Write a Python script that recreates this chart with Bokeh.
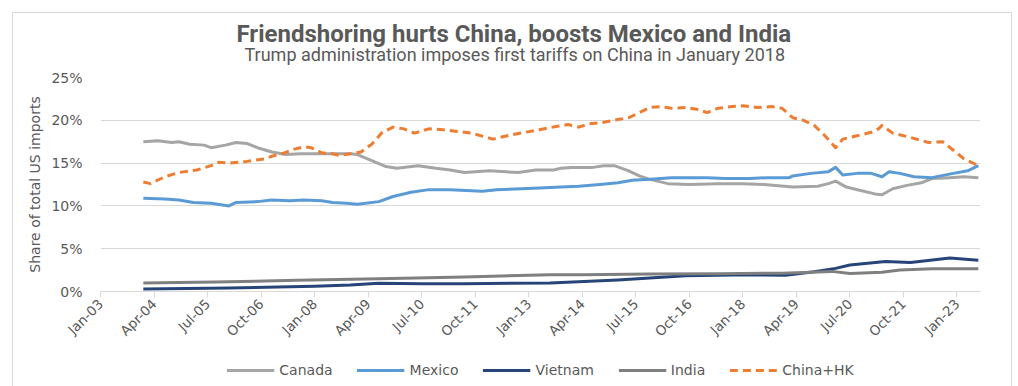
import math
from bokeh.plotting import figure
from bokeh.layouts import column
from bokeh.models import Range1d, FixedTicker, Legend, LegendItem, Title, ColumnDataSource
from bokeh.embed import file_html
from bokeh.resources import INLINE

# ---------------- data (share of total US imports, %) ----------------
tick_labels = ["Jan-03", "Apr-04", "Jul-05", "Oct-06", "Jan-08", "Apr-09", "Jul-10",
               "Oct-11", "Jan-13", "Apr-14", "Jul-15", "Oct-16", "Jan-18", "Apr-19",
               "Jul-20", "Oct-21", "Jan-23"]
y_ticks = [0, 5, 10, 15, 20, 25]

china_dates = ["2004-01", "2004-03", "2004-07", "2004-11", "2005-04", "2005-08", "2005-10",
               "2006-01", "2006-06", "2006-11", "2007-01", "2007-04", "2007-07", "2007-10",
               "2007-12", "2008-03", "2008-06", "2008-08", "2008-11", "2009-02", "2009-05",
               "2009-08", "2009-11", "2010-02", "2010-05", "2010-09", "2011-01", "2011-05",
               "2011-09", "2012-03", "2012-07", "2012-12", "2013-04", "2013-09", "2013-12",
               "2014-03", "2014-06", "2014-09", "2015-02", "2015-05", "2015-08", "2015-11",
               "2016-02", "2016-05", "2016-09", "2016-12", "2017-03", "2017-06", "2017-10",
               "2018-01", "2018-05", "2018-09", "2018-12", "2019-03", "2019-06", "2019-09",
               "2019-12", "2020-03", "2020-05", "2020-09", "2021-01", "2021-03", "2021-04",
               "2021-07", "2021-12", "2022-05", "2022-09", "2022-12", "2023-03", "2023-07"]
china_vals = [12.8, 12.6, 13.4, 13.9, 14.2, 14.7, 15.1,
              15.0, 15.2, 15.5, 15.8, 16.1, 16.6, 16.9,
              16.8, 16.2, 16.1, 15.9, 16.1, 16.3, 17.2,
              18.6, 19.2, 19.0, 18.5, 19.0, 18.9, 18.7,
              18.5, 17.8, 18.2, 18.6, 18.9, 19.3, 19.5,
              19.2, 19.6, 19.7, 20.1, 20.3, 20.9, 21.5,
              21.6, 21.4, 21.5, 21.3, 20.9, 21.4, 21.6,
              21.7, 21.5, 21.6, 21.4, 20.3, 20.0, 19.4,
              18.2, 16.8, 17.8, 18.2, 18.6, 19.0, 19.4,
              18.5, 18.0, 17.4, 17.5, 16.5, 15.5, 14.7]

canada_dates = ["2004-01", "2004-05", "2004-09", "2004-11", "2005-02", "2005-06", "2005-08",
                "2005-12", "2006-03", "2006-06", "2006-09", "2007-01", "2007-05", "2007-09",
                "2008-02", "2008-07", "2008-11", "2009-01", "2009-05", "2009-09", "2009-12",
                "2010-06", "2010-11", "2011-03", "2011-07", "2012-02", "2012-10", "2013-03",
                "2013-08", "2013-10", "2014-01", "2014-07", "2014-10", "2015-01", "2015-05",
                "2015-08", "2015-11", "2016-04", "2016-10", "2017-06", "2018-01", "2018-07",
                "2019-03", "2019-10", "2020-01", "2020-03", "2020-06", "2020-10", "2021-02",
                "2021-04", "2021-07", "2021-11", "2022-03", "2022-06", "2022-11", "2023-03",
                "2023-07"]
canada_vals = [17.5, 17.6, 17.4, 17.5, 17.2, 17.1, 16.8,
               17.1, 17.4, 17.3, 16.8, 16.3, 16.0, 16.1,
               16.1, 16.1, 16.1, 16.0, 15.3, 14.6, 14.4,
               14.7, 14.4, 14.2, 13.9, 14.1, 13.9, 14.2,
               14.2, 14.4, 14.5, 14.5, 14.7, 14.7, 14.1,
               13.5, 13.1, 12.6, 12.5, 12.6, 12.6, 12.5,
               12.2, 12.3, 12.6, 12.9, 12.2, 11.8, 11.4,
               11.3, 12.0, 12.4, 12.7, 13.2, 13.3, 13.4,
               13.3]

mexico_dates = ["2004-01", "2004-07", "2004-11", "2005-03", "2005-08", "2006-01", "2006-03",
                "2006-09", "2007-01", "2007-06", "2007-10", "2008-03", "2008-06", "2008-10",
                "2009-01", "2009-07", "2009-11", "2010-04", "2010-09", "2011-03", "2011-12",
                "2012-04", "2012-11", "2013-04", "2013-10", "2014-03", "2014-09", "2015-02",
                "2015-06", "2015-11", "2016-05", "2016-10", "2017-03", "2017-08", "2018-03",
                "2018-08", "2019-02", "2019-03", "2019-08", "2020-01", "2020-03", "2020-05",
                "2020-09", "2021-01", "2021-04", "2021-06", "2021-09", "2022-01", "2022-06",
                "2022-12", "2023-04", "2023-07"]
mexico_vals = [10.9, 10.8, 10.7, 10.4, 10.3, 10.0, 10.4,
               10.5, 10.7, 10.6, 10.7, 10.6, 10.4, 10.3,
               10.2, 10.5, 11.1, 11.6, 11.9, 11.9, 11.7,
               11.9, 12.0, 12.1, 12.2, 12.3, 12.5, 12.7,
               13.0, 13.1, 13.3, 13.3, 13.3, 13.2, 13.2,
               13.3, 13.3, 13.5, 13.8, 14.0, 14.5, 13.6,
               13.8, 13.8, 13.4, 14.0, 13.8, 13.4, 13.3,
               13.8, 14.1, 14.7]

vietnam_dates = ["2004-01", "2006-01", "2008-01", "2008-11", "2009-07", "2010-07", "2011-07",
                 "2013-07", "2015-02", "2016-09", "2018-03", "2019-01", "2019-09", "2020-03",
                 "2020-07", "2021-05", "2021-12", "2022-11", "2023-07"]
vietnam_vals = [0.3, 0.4, 0.6, 0.75, 0.95, 0.9, 0.9,
                1.0, 1.35, 1.85, 1.95, 1.9, 2.3, 2.7,
                3.1, 3.5, 3.4, 3.9, 3.65]

india_dates = ["2004-01", "2005-09", "2007-08", "2009-07", "2011-07", "2013-07", "2014-04",
               "2015-11", "2017-06", "2018-12", "2020-02", "2020-07", "2021-04", "2021-09",
               "2022-06", "2023-07"]
india_vals = [1.0, 1.1, 1.3, 1.5, 1.7, 1.95, 1.95,
              2.05, 2.07, 2.14, 2.35, 2.1, 2.25, 2.5,
              2.65, 2.65]

MONTHS = ["Jan", "Feb", "Mar", "Apr", "May", "Jun", "Jul", "Aug", "Sep", "Oct", "Nov", "Dec"]


def month_index(s):
    y, m = s.split("-")
    return (int(y) - 2003) * 12 + int(m) - 1


def label_index(lbl):
    mon, yy = lbl.split("-")
    return (int(yy)) * 12 + MONTHS.index(mon) - 36


TEXT = "#595959"
GRID = "#d9d9d9"

p = figure(frame_width=880, frame_height=214, output_backend="svg", toolbar_location=None,
           x_range=Range1d(0, 246.6), y_range=Range1d(0, 25),
           min_border_left=87, min_border_right=31, min_border_top=64, min_border_bottom=0)
p.outline_line_color = None
p.xgrid.grid_line_color = None
p.ygrid.grid_line_color = GRID
p.ygrid.grid_line_width = 1

# y axis
p.yaxis.ticker = FixedTicker(ticks=y_ticks)
p.yaxis.major_label_overrides = {t: f"{t}%" for t in y_ticks}
p.yaxis.axis_line_color = None
p.yaxis.major_tick_line_color = None
p.yaxis.minor_tick_line_color = None
p.yaxis.major_label_standoff = 12
p.yaxis.major_label_text_font = "DejaVu Sans"
p.yaxis.major_label_text_font_size = "14px"
p.yaxis.major_label_text_color = TEXT
p.yaxis.axis_label = "Share of total US imports"
p.yaxis.axis_label_text_font = "DejaVu Sans"
p.yaxis.axis_label_text_font_size = "14px"
p.yaxis.axis_label_text_font_style = "normal"
p.yaxis.axis_label_text_color = TEXT
p.yaxis.axis_label_standoff = 5

# x axis
xt = [label_index(l) for l in tick_labels]
p.xaxis.ticker = FixedTicker(ticks=xt)
p.xaxis.major_label_overrides = {t: l for t, l in zip(xt, tick_labels)}
p.xaxis.major_label_orientation = math.pi / 4
p.xaxis.axis_line_color = GRID
p.xaxis.major_tick_line_color = GRID
p.xaxis.major_tick_out = 6
p.xaxis.major_tick_in = 0
p.xaxis.minor_tick_line_color = None
p.xaxis.major_label_standoff = 4
p.xaxis.major_label_text_font = "DejaVu Sans"
p.xaxis.major_label_text_font_size = "13.5px"
p.xaxis.major_label_text_color = TEXT

series = [
    ("Canada", canada_dates, canada_vals, "#a5a5a5", "solid"),
    ("Mexico", mexico_dates, mexico_vals, "#5b9bd5", "solid"),
    ("Vietnam", vietnam_dates, vietnam_vals, "#264478", "solid"),
    ("India", india_dates, india_vals, "#7f7f7f", "solid"),
    ("China+HK", china_dates, china_vals, "#ed7d31", "8 5"),
]
sources = {}
for name, d, v, c, dash in series:
    src = ColumnDataSource(dict(x=[month_index(s) for s in d], y=v))
    sources[name] = src
    p.line("x", "y", source=src, line_color=c, line_width=3, line_dash=dash,
           line_join="round")

p.add_layout(Title(text="Trump administration imposes first tariffs on China in January 2018",
                   align="left", offset=144, standoff=25, text_font="Roboto",
                   text_font_style="normal", text_font_size="18px", text_color=TEXT), "above")
p.add_layout(Title(text="Friendshoring hurts China, boosts Mexico and India",
                   align="left", offset=136, standoff=-36, text_font="Roboto",
                   text_font_style="bold", text_font_size="24px", text_color=TEXT), "above")

# legend strip (separate small figure so the legend sits below the axis labels);
# its lines reuse the series sources, which fall outside this strip's ranges
lg = figure(width=998, height=46, output_backend="svg", toolbar_location=None,
            x_range=Range1d(-2, -1), y_range=Range1d(-2, -1),
            x_axis_type=None, y_axis_type=None,
            min_border_left=0, min_border_right=0, min_border_top=0, min_border_bottom=0)
lg.outline_line_color = None
lg.xgrid.visible = False
lg.ygrid.visible = False
items = []
for name, d, v, c, dash in series:
    r = lg.line("x", "y", source=sources[name], line_color=c, line_width=3, line_dash=dash)
    items.append(LegendItem(label=name, renderers=[r]))
legend = Legend(items=items, orientation="horizontal", location="center",
                glyph_width=48, glyph_height=16, label_standoff=5, spacing=24,
                padding=2, margin=0, border_line_color=None, background_fill_alpha=0,
                label_text_font="DejaVu Sans", label_text_font_size="14px",
                label_text_color=TEXT)
lg.add_layout(legend)

layout = column(p, lg, spacing=0,
                styles={"border": "1px solid #d9d9d9", "margin-left": "12px",
                        "margin-top": "12px"})

open("out.html", "w").write(file_html(layout, INLINE))
